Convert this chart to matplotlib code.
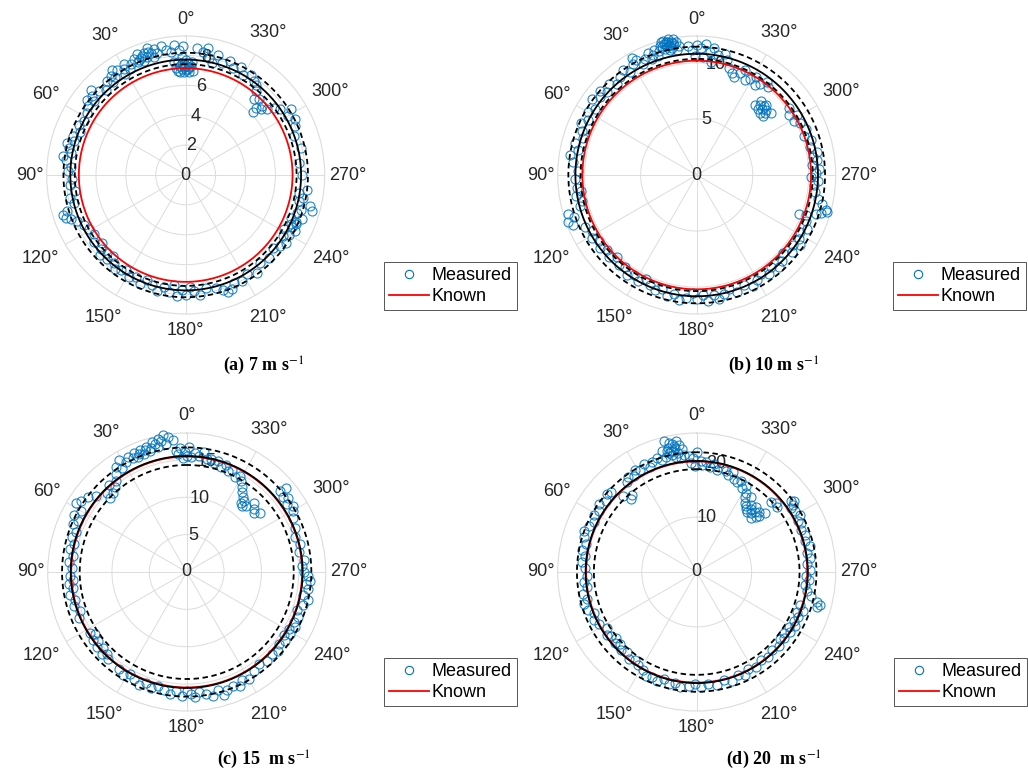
import numpy as np
import matplotlib
matplotlib.use('Agg')
import matplotlib.pyplot as plt
from matplotlib.lines import Line2D

plt.rcParams['font.family'] = ['Liberation Sans', 'DejaVu Sans']
plt.rcParams['mathtext.fontset'] = 'stix'

# measured points per panel, (angle deg, radius m/s)
meas_a = [
    (356, 7.0), (357, 7.3), (358, 6.9), (358, 7.2), (359, 7.5), (0, 7.0), (0, 7.3), (1, 6.9),
    (1, 7.2), (2, 7.5), (2, 7.1), (3, 6.9), (3, 7.3), (4, 7.6), (5, 7.2), (357, 7.6), (0, 7.7),
    (2, 7.9), (6, 7.6), (359, 7.1), (1, 7.4), (4, 7.0),
    (1, 8.6), (3, 8.4), (5, 8.7), (7, 8.3), (9, 8.5), (11, 8.8), (13, 8.4), (14, 8.7), (15, 8.2),
    (16, 8.5), (17, 8.9), (18, 8.3), (19, 8.6), (20, 8.1), (21, 8.4), (22, 8.7), (23, 8.2),
    (24, 8.5), (26, 8.3), (355, 8.5), (352, 8.3), (350, 8.6), (17, 8.6), (20, 8.5), (22, 8.3),
    (28, 8.0), (29, 8.5), (30, 8.2), (31, 7.9), (33, 8.4), (35, 8.6), (36, 8.1), (37, 8.3),
    (38, 7.9), (40, 8.2),
    (43, 7.8), (46, 8.1), (48, 8.5), (50, 8.2), (51, 7.9), (53, 8.3), (55, 8.0), (58, 7.8),
    (62, 7.7), (65, 7.9), (68, 7.6), (71, 8.0), (73, 7.8), (75, 8.2), (77, 8.0), (79, 7.8),
    (81, 8.3), (83, 8.1), (86, 7.7), (88, 7.9),
    (92, 7.6), (95, 7.8), (98, 7.5), (101, 7.9), (104, 7.7), (107, 8.3), (108, 8.6), (110, 8.5),
    (111, 8.2), (113, 7.9), (116, 7.6), (119, 7.4),
    (123, 7.3), (126, 7.6), (129, 7.2), (131, 7.5), (133, 7.8), (135, 7.4), (137, 7.7), (138, 7.3),
    (141, 7.6), (143, 7.9), (146, 7.7), (148, 7.5), (151, 7.8), (154, 7.6), (157, 7.9), (160, 7.5),
    (163, 7.7), (166, 8.0), (169, 7.6),
    (172, 7.9), (174, 7.4), (176, 8.1), (178, 7.7), (180, 8.0), (182, 7.5), (184, 7.8), (187, 8.1),
    (190, 7.7),
    (195, 7.8), (198, 8.1), (200, 8.3), (202, 8.2), (204, 7.9), (208, 8.0), (212, 7.8), (216, 8.1),
    (220, 7.7), (225, 7.9),
    (230, 7.6), (233, 7.9), (236, 8.1), (238, 7.7), (240, 8.0), (241, 7.5), (243, 8.2), (245, 7.8),
    (246, 8.1), (248, 7.6), (249, 8.3), (251, 7.9), (253, 8.1), (254, 8.8), (256, 8.6), (257, 7.8),
    (259, 8.0), (261, 7.7), (263, 8.2), (244, 7.9), (247, 8.0),
    (270, 7.8), (276, 7.6), (283, 7.9), (290, 7.7), (294, 8.0), (297, 8.2), (300, 7.9), (302, 8.3),
    (305, 7.7), (307, 7.4), (309, 7.0), (311, 6.7), (312, 6.9), (313, 6.2), (314, 6.5), (316, 7.1),
    (318, 6.8), (320, 7.3), (322, 7.6), (324, 7.8), (327, 8.0), (330, 7.7),
    (333, 8.1), (336, 7.8), (339, 8.2), (342, 7.9), (345, 8.3), (347, 7.7), (349, 8.0),
]

meas_b = [
    (8, 11.6), (9, 12.0), (10, 11.8), (10, 12.3), (11, 11.5), (11, 12.1), (12, 11.9), (12, 12.4),
    (13, 11.7), (13, 12.2), (14, 12.0), (14, 11.6), (15, 12.3), (15, 11.8), (16, 12.0), (9, 11.3),
    (12, 11.4), (10, 12.0), (11, 11.8), (13, 12.0), (14, 12.3), (12, 12.1),
    (17, 11.6), (18, 11.2), (19, 11.8), (20, 11.4), (21, 11.1), (22, 11.7), (24, 11.3), (26, 11.0),
    (28, 11.6), (29, 11.9), (30, 11.4),
    (4, 11.5), (2, 11.2), (0, 11.6), (358, 11.3), (356, 11.7), (354, 11.0), (352, 11.4), (350, 10.9),
    (1, 10.6), (357, 10.5), (353, 10.2),
    (347, 11.1), (345, 10.6), (343, 10.0), (341, 9.6), (339, 9.4), (337, 9.9), (335, 10.3),
    (333, 9.5), (331, 9.8), (329, 10.2), (327, 9.6), (325, 9.9), (323, 10.4), (321, 10.1),
    (310, 8.6), (312, 8.2), (313, 8.5), (314, 7.9), (315, 8.3), (316, 8.6), (317, 8.0), (318, 8.4),
    (319, 8.7), (320, 8.1), (315, 8.8), (312, 7.9),
    (306, 10.2), (303, 9.8), (301, 10.4), (299, 9.9), (297, 10.3),
    (293, 10.6), (290, 10.2), (287, 10.7), (284, 10.4), (281, 10.9), (279, 10.5), (277, 10.8),
    (275, 10.3), (273, 10.9), (271, 10.6), (269, 10.2), (267, 10.8), (265, 10.5),
    (262, 10.7), (259, 11.0), (257, 11.5), (255, 11.9), (254, 12.1), (253, 11.6), (252, 11.2),
    (250, 10.4), (249, 9.8), (247, 10.6),
    (244, 10.9), (241, 10.5), (238, 10.8), (236, 11.1), (234, 10.6), (231, 10.9), (228, 10.4),
    (225, 10.8), (222, 11.0), (219, 10.6), (216, 10.9), (213, 10.5), (210, 10.8), (207, 11.1),
    (203, 10.7), (199, 11.0), (196, 10.6), (193, 10.9), (190, 11.2), (188, 10.8), (185, 11.3),
    (183, 10.7), (180, 11.1), (178, 10.5), (175, 11.0), (172, 11.3), (169, 10.8), (166, 11.1),
    (163, 10.6), (160, 10.9),
    (157, 10.7), (154, 10.3), (151, 10.8), (148, 10.5), (145, 10.9), (142, 10.4), (139, 10.6),
    (136, 10.2), (133, 10.7), (130, 10.4), (127, 10.8), (124, 10.5), (121, 10.9),
    (118, 10.6), (115, 11.0), (112, 11.9), (110, 12.2), (109, 11.6), (107, 12.0), (105, 10.8),
    (103, 10.5), (100, 10.9), (98, 10.4), (96, 10.7),
    (92, 10.9), (88, 10.6), (84, 11.1), (81, 11.4), (78, 10.8), (75, 11.2), (72, 10.7), (69, 11.0),
    (66, 11.3), (63, 10.9),
    (60, 11.2), (57, 10.8), (54, 11.5), (51, 11.1), (49, 11.4), (47, 10.9), (44, 11.3), (41, 10.8),
    (38, 11.1), (35, 11.4), (33, 11.0),
]

meas_c = [
    (6, 17.8), (8, 18.3), (9, 17.4), (10, 18.6), (11, 17.9), (12, 18.2), (13, 17.1), (14, 17.7),
    (15, 18.0), (16, 17.3), (17, 16.9), (18, 17.6), (19, 17.2), (20, 16.8), (21, 17.5), (22, 17.1),
    (23, 16.7), (24, 17.4), (25, 16.9), (27, 17.2),
    (0, 15.5), (1, 16.1), (2, 15.3), (3, 16.6), (4, 15.8), (5, 16.3), (358, 15.4), (356, 16.0),
    (354, 15.6), (352, 16.2), (350, 15.3), (359, 16.7),
    (29, 16.8), (31, 17.5), (32, 16.4), (34, 17.0), (36, 16.2), (38, 15.4), (40, 14.9), (42, 15.6),
    (43, 14.5), (45, 15.0), (46, 14.3),
    (50, 15.8), (53, 16.6), (56, 17.1), (58, 17.4), (60, 16.3), (63, 16.9), (65, 16.1), (67, 16.5),
    (70, 15.7), (73, 16.0), (76, 15.5), (79, 15.9), (82, 15.3), (85, 15.8), (88, 15.4),
    (92, 15.6), (94, 15.2), (96, 15.8), (98, 15.3), (101, 15.9), (104, 15.4), (107, 15.7),
    (110, 15.2), (113, 15.6),
    (122, 15.3), (124, 14.8), (126, 15.5), (128, 15.0), (130, 15.6), (132, 15.1), (134, 15.8),
    (136, 15.3), (138, 15.7),
    (145, 15.9), (148, 16.2), (151, 15.6), (154, 16.0), (157, 16.4), (160, 15.8), (163, 16.2),
    (166, 15.7), (169, 16.1), (172, 16.5),
    (175, 16.0), (178, 16.6), (180, 15.9), (182, 16.4), (184, 16.8), (186, 16.1), (189, 16.5),
    (192, 16.9), (195, 16.3), (197, 17.2), (199, 16.7),
    (202, 16.4), (205, 16.9), (207, 16.2), (210, 16.6), (214, 16.0), (218, 15.7), (222, 16.1),
    (226, 15.8), (229, 16.2), (232, 15.6), (235, 16.0),
    (237, 15.5), (239, 16.1), (241, 15.7), (243, 16.3), (245, 15.8), (248, 16.1), (251, 15.6),
    (254, 16.2), (257, 16.6), (259, 15.9),
    (262, 16.4), (264, 16.0), (266, 16.6), (268, 16.2), (270, 15.7), (273, 15.4), (276, 15.8),
    (280, 15.3), (284, 15.6), (288, 15.2), (292, 15.7),
    (297, 16.0), (300, 16.4), (302, 16.7), (304, 16.2), (306, 16.8), (308, 16.3), (310, 17.4),
    (311, 16.5), (313, 12.4), (311, 12.0), (309, 12.6),
    (316, 12.9), (318, 11.9), (320, 11.5), (321, 12.2), (322, 11.7), (323, 12.5), (325, 13.0),
    (327, 13.6), (329, 14.2), (331, 14.7), (333, 14.3),
    (336, 15.0), (338, 14.6), (340, 15.2), (342, 14.8), (344, 15.4), (346, 15.0), (348, 15.5),
]

meas_d = [
    (6, 21.5), (7, 22.6), (8, 23.4), (9, 22.0), (9, 24.2), (10, 22.9), (10, 21.3), (11, 23.7),
    (11, 22.4), (12, 24.0), (12, 21.8), (13, 23.1), (13, 22.2), (14, 22.7), (15, 21.6), (16, 23.0),
    (8, 21.0), (14, 24.5), (10, 23.3), (12, 22.6),
    (4, 21.2), (2, 20.8), (0, 21.9), (358, 20.3), (357, 19.5), (355, 20.1), (353, 19.2), (351, 19.9),
    (349, 19.0), (3, 19.8), (1, 19.3),
    (346, 19.6), (344, 19.1), (342, 18.6), (340, 19.3), (338, 18.2), (336, 17.9), (334, 18.5),
    (332, 17.4), (330, 18.1), (328, 17.0),
    (327, 16.2), (325, 15.4), (324, 16.8), (323, 15.0), (322, 14.5), (321, 15.7), (320, 14.2),
    (319, 15.1), (318, 16.0), (317, 14.6), (316, 15.3), (315, 14.0), (314, 15.8), (313, 14.7),
    (312, 15.2), (311, 16.4),
    (313, 18.6), (311, 19.2), (309, 18.9), (307, 21.6), (306, 22.0), (305, 21.3), (304, 20.7),
    (302, 21.0),
    (299, 21.4), (297, 20.6), (295, 21.0), (292, 20.4), (289, 20.9), (286, 20.5), (283, 21.1),
    (280, 20.3), (277, 20.8), (274, 20.2), (271, 20.6), (268, 19.9),
    (266, 20.4), (263, 19.8), (260, 20.3), (258, 21.2), (256, 22.5), (255, 23.3), (254, 22.8),
    (252, 19.7), (250, 20.5), (248, 19.6), (246, 20.1),
    (243, 19.8), (241, 20.4), (239, 19.6), (237, 20.2), (235, 19.4), (233, 20.0), (231, 19.5),
    (228, 20.1), (224, 19.7), (220, 20.3), (216, 19.8), (212, 20.4), (208, 20.0), (205, 20.6),
    (202, 20.2),
    (198, 20.8), (194, 20.3), (190, 20.9), (186, 20.5), (182, 21.0), (179, 20.4), (176, 20.8),
    (172, 21.2), (169, 20.6), (166, 21.0), (163, 20.4), (160, 21.1),
    (157, 20.7), (154, 21.0), (151, 20.3), (148, 20.0), (145, 19.6), (142, 20.1), (139, 19.4),
    (136, 19.8), (133, 19.1), (131, 19.6), (129, 19.0), (127, 19.5), (125, 20.0), (122, 19.3),
    (118, 20.2), (115, 20.7), (112, 20.1), (109, 21.0), (106, 21.4), (104, 20.5), (101, 21.0),
    (98, 20.2), (95, 20.6), (92, 19.9),
    (88, 20.4), (85, 21.0), (82, 20.6), (79, 21.2), (76, 20.7), (73, 21.5), (70, 21.9), (67, 21.3),
    (64, 20.8), (61, 21.4), (58, 20.9), (55, 21.6),
    (52, 20.9), (49, 21.6), (47, 21.3), (44, 19.3), (42, 17.9), (40, 18.4), (38, 20.7), (36, 21.3),
    (33, 20.9), (31, 21.7), (29, 21.2), (26, 21.8), (24, 21.0), (22, 21.5), (19, 22.0), (17, 21.3),
]

measured = [meas_a, meas_b, meas_c, meas_d]
r_max = [9.3, 12.4, 18.6, 25.3]
r_ticks = [[0, 2, 4, 6, 8], [0, 5, 10], [0, 5, 10, 15], [0, 10, 20]]
known = [7.15, 10.2, 15.45, 20.15]
fit_mean = [7.72, 10.82, 15.52, 20.22]
fit_lo = [7.42, 10.36, 14.32, 18.72]
fit_hi = [8.18, 11.45, 16.68, 21.8]
captions = ['(a) 7 m s$^{-1}$', '(b) 10 m s$^{-1}$',
            '(c) 15  m s$^{-1}$', '(d) 20  m s$^{-1}$']
theta_ticks = list(range(0, 360, 30))

# layout in pixels of the 1028x774 canvas
W, H = 1028, 774
centers = [(185.7, 175), (696.7, 175), (186.7, 572), (696.7, 572)]
R = 139
legend_at = [(384, 262), (893, 262), (384, 658), (894, 658)]
caption_at = [(264, 365.5), (774, 365.5), (264, 760), (774, 760)]

blue = '#0072BD'
txt = '#262626'
gridc = '#DCDCDC'

fig = plt.figure(figsize=(W / 100, H / 100), dpi=100)
ring = np.linspace(0, 2 * np.pi, 400)

for i in range(4):
    cx, cy = centers[i]
    ax = fig.add_axes([(cx - R) / W, 1 - (cy + R) / H, 2 * R / W, 2 * R / H],
                      projection='polar')
    ax.set_theta_zero_location('N')
    ax.set_theta_direction(1)
    ax.set_ylim(0, r_max[i])
    ax.set_xticks(np.radians(theta_ticks))
    ax.set_xticklabels([])
    ax.set_yticks(r_ticks[i][1:])
    ax.set_yticklabels([])
    ax.tick_params(length=0)
    ax.grid(color=gridc, lw=0.7)
    ax.spines['polar'].set_color(gridc)
    ax.spines['polar'].set_linewidth(0.8)
    ax.set_axisbelow(True)

    th = np.radians([p[0] for p in measured[i]])
    rr = [p[1] for p in measured[i]]
    ax.plot(th, rr, 'o', ls='none', ms=6.5, mfc='none', mec=blue, mew=0.8,
            alpha=0.85, zorder=3, clip_on=False)
    ax.plot(ring, np.full_like(ring, known[i]), color='red', lw=1.3, zorder=4)
    ax.plot(ring, np.full_like(ring, fit_mean[i]), color='k', lw=1.3, zorder=5)
    for rb in (fit_lo[i], fit_hi[i]):
        ax.plot(ring, np.full_like(ring, rb), color='k', lw=1.3,
                dashes=(3, 2), zorder=5)

    # radial labels, under the data
    for rt in r_ticks[i]:
        ax.text(np.radians(350), rt, str(rt), ha='center', va='center',
                fontsize=13, color=txt, zorder=1)

    # angle labels
    for a in theta_ticks:
        t = np.radians(a)
        half = 13.5 if a < 100 else 20
        d = 17 + 6.5 * abs(np.sin(2 * t)) + (half - 13.5) * abs(np.sin(t))
        ax.annotate('%d°' % a, xy=(t, r_max[i]),
                    xytext=(-np.sin(t) * d, np.cos(t) * d),
                    textcoords='offset pixels', ha='center', va='center',
                    fontsize=13, color=txt, annotation_clip=False)

    handles = [Line2D([], [], ls='none', marker='o', ms=6, mfc='none',
                      mec=blue, mew=0.8),
               Line2D([], [], color='red', lw=1.3)]
    lx, ly = legend_at[i]
    leg = fig.legend(handles, ['Measured', 'Known'], loc='upper left',
                     bbox_to_anchor=(lx / W, 1 - ly / H), borderaxespad=0,
                     fontsize=13, fancybox=False, edgecolor='#555555',
                     framealpha=1, handlelength=2.2, handletextpad=0.15,
                     borderpad=0.3, labelspacing=0.2)
    leg.get_frame().set_linewidth(0.7)

    tx, ty = caption_at[i]
    fig.text(tx / W, 1 - ty / H, captions[i], ha='center', va='center',
             fontsize=13, fontweight='bold', family='Liberation Serif',
             color='k')

fig.savefig('out.png', dpi=100)
